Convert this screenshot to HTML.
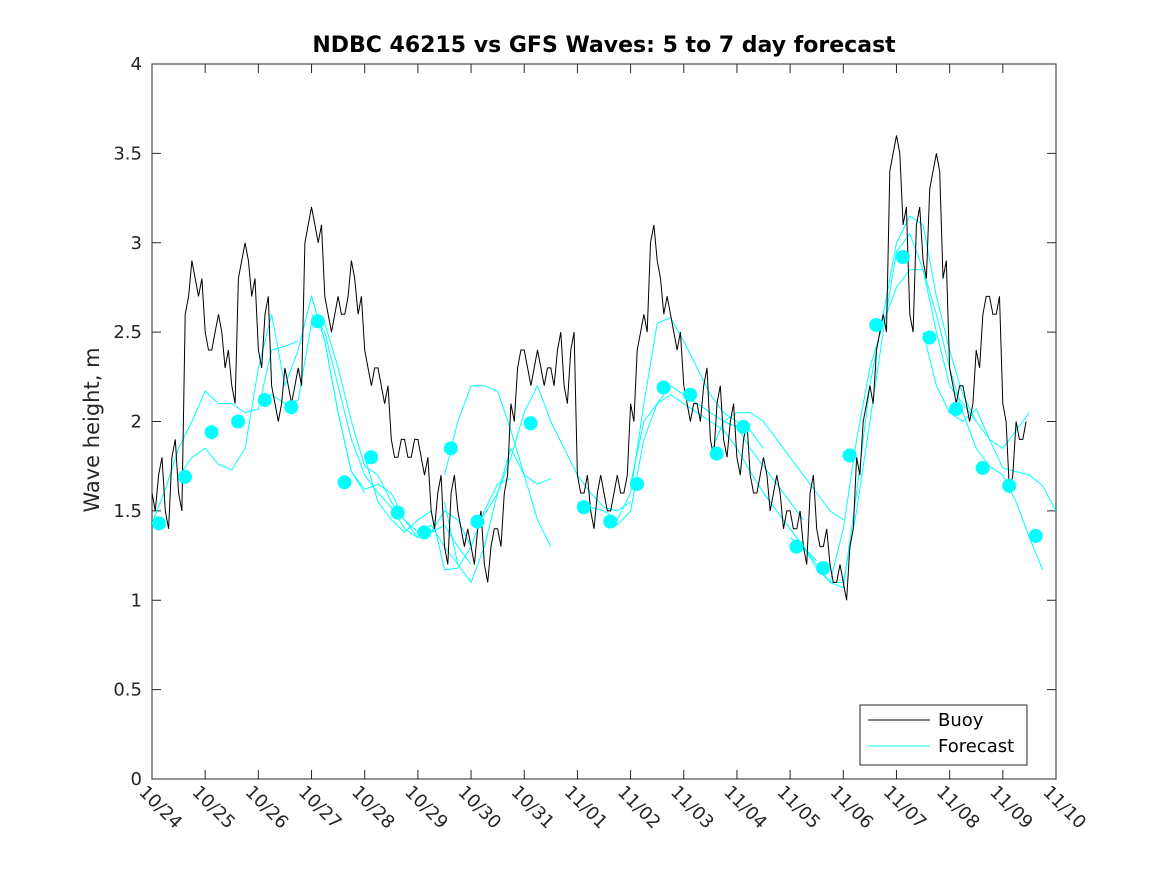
<!DOCTYPE html>
<html><head><meta charset="utf-8"><style>
body{margin:0;background:#fff;}
svg text{font-family:"DejaVu Sans","Liberation Sans",sans-serif;}
</style></head><body>
<svg id="chart" width="1167" height="875" viewBox="0 0 1167 875">
<rect x="0" y="0" width="1167" height="875" fill="#fff"/>
<defs><clipPath id="clip"><rect x="152" y="64" width="904" height="715"/></clipPath></defs>
<text x="604" y="52" text-anchor="middle" font-size="22" font-weight="bold" fill="#000">NDBC 46215 vs GFS Waves: 5 to 7 day forecast</text>
<text transform="translate(99,430) rotate(-90)" text-anchor="middle" font-size="21" fill="#262626">Wave height, m</text>
<g id="axes"></g>
<g id="plot" clip-path="url(#clip)"></g>
<g>
<rect x="860" y="705" width="167" height="60" fill="#fff" stroke="#262626" stroke-width="1"/>
<line x1="868" y1="720" x2="930" y2="720" stroke="#000" stroke-width="1"/>
<text x="938" y="726" font-size="18" fill="#000">Buoy</text>
<line x1="868" y1="746" x2="930" y2="746" stroke="#00ffff" stroke-width="1"/>
<text x="938" y="752" font-size="18" fill="#000">Forecast</text>
</g>
</svg>
<script>
const xTickLabels=["10/24","10/25","10/26","10/27","10/28","10/29","10/30","10/31","11/01","11/02","11/03","11/04","11/05","11/06","11/07","11/08","11/09","11/10"];
const yTicks=[0,0.5,1,1.5,2,2.5,3,3.5,4];
const yTickLabels=["0","0.5","1","1.5","2","2.5","3","3.5","4"];
const buoyStep=0.125;
const buoyValues=[
1.6,1.7,1.5,1.8,1.6,2.6,2.9,2.7,
2.5,2.4,2.6,2.3,2.2,2.8,3.0,2.7,
2.4,2.6,2.2,2.0,2.3,2.1,2.3,3.0,
3.2,3.0,2.7,2.5,2.7,2.6,2.9,2.6,
2.4,2.2,2.3,2.1,1.9,1.8,1.9,1.8,
1.9,1.7,1.5,1.6,1.3,1.6,1.5,1.3,
1.3,1.4,1.2,1.3,1.4,1.6,2.1,2.3,
2.4,2.2,2.4,2.2,2.3,2.4,2.2,2.4,
1.7,1.6,1.5,1.6,1.6,1.5,1.7,1.6,
2.1,2.4,2.6,3.0,2.9,2.6,2.6,2.4,
2.2,2.0,2.1,2.2,1.9,2.1,1.9,2.0,
1.8,1.9,1.7,1.6,1.8,1.5,1.7,1.4,
1.5,1.4,1.3,1.6,1.4,1.3,1.2,1.1,
1.1,1.3,1.8,2.0,2.2,2.4,2.6,3.4,
3.6,3.1,2.6,3.1,2.9,3.3,3.5,2.8,
2.3,2.1,2.2,2.0,2.4,2.6,2.7,2.6,
2.1,1.6,2.0,1.9];
const dotTimes=[0.13,0.62,1.12,1.62,2.12,2.62,3.12,3.62,4.12,4.62,5.12,5.62,6.12,7.12,8.12,8.62,9.12,9.62,10.12,10.62,11.12,12.12,12.62,13.12,13.62,14.12,14.62,15.12,15.62,16.12,16.62];
const dotValues=[1.43,1.69,1.94,2.00,2.12,2.08,2.56,1.66,1.80,1.49,1.38,1.85,1.44,1.99,1.52,1.44,1.65,2.19,2.15,1.82,1.97,1.30,1.18,1.81,2.54,2.92,2.47,2.07,1.74,1.64,1.36];
const fcStep=0.25;
const fcStarts=[0,0.5,2,3,3,4,5.5,5.5,6,8,8.5,9,10.5,11.5,12,12.75,14.5];
const fc1=[1.43,1.62,1.85,2.0,2.17,2.1,2.1,2.05,2.07,2.4,2.42,2.45];
const fc2=[1.69,1.8,1.85,1.76,1.73,1.85,2.3,2.6,2.2,2.4,2.7,2.45,2.05,1.72,1.6];
const fc3=[2.12,2.15,2.1,2.12,2.55,2.55,2.3,2.0,1.75,1.7,1.55,1.45,1.38,1.42,1.3,1.2];
const fc4=[2.7,2.45,2.05,1.72,1.62,1.65,1.6,1.45,1.35,1.38,1.42,1.3,1.2];
const fc5=[2.6,2.5,2.2,1.9,1.7,1.6,1.52,1.4,1.35,1.38,1.5,1.45,1.3];
const fc6=[1.8,1.55,1.45,1.38,1.45,1.5,1.17,1.18,1.3,1.5,1.65,1.68];
const fc7=[1.55,1.2,1.1,1.3,1.6,1.85,1.7,1.65,1.68];
const fc8=[1.7,2.0,2.2,2.2,2.17,1.95,1.7,1.45,1.3];
const fc9=[1.42,1.48,1.6,1.8,2.05,2.2,2.0,1.85,1.7,1.6,1.52,1.5,1.55];
const fc10=[1.55,1.52,1.5,1.45,1.6,2.1,2.55,2.58,2.45,2.3,2.15,2.05,2.0,1.95,1.85];
const fc11=[1.45,1.42,1.5,1.9,2.1,2.2,2.15,2.1,2.05,2.0,1.97,1.85,1.75,1.65,1.55,1.45];
const fc12=[1.65,2.0,2.1,2.15,2.1,2.05,2.0,1.95,1.85,1.72,1.6,1.5,1.4,1.3,1.22];
const fc13=[1.82,2.0,2.05,2.05,2.0,1.9,1.8,1.7,1.6,1.5,1.45];
const fc14=[1.6,1.5,1.4,1.3,1.2,1.1,1.07,1.6,2.2,2.6,3.0,3.15,3.1,2.7,2.4,2.15,2.0];
const fc15=[1.35,1.3,1.18,1.1,1.1,1.5,2.0,2.5,2.95,3.05,2.85,2.5,2.2,2.1,2.0,1.9,1.85,1.95,2.05];
const fc16=[1.1,1.4,1.9,2.3,2.55,2.75,2.85,2.85,2.6,2.3,2.05,1.85,1.75,1.7,1.55,1.35,1.17];
const fc17=[2.5,2.2,2.05,2.0,2.07,1.9,1.74,1.72,1.7,1.64,1.5,1.36,1.22,1.12];
const fcSeries=[fc1,fc2,fc3,fc4,fc5,fc6,fc7,fc8,fc9,fc10,fc11,fc12,fc13,fc14,fc15,fc16,fc17];

const X0=152,X1=1056,Y0=779,Y1=64,DAYS=17,YMAX=4;
const xs=d=>X0+(X1-X0)*d/DAYS;
const ys=v=>Y0-(Y0-Y1)*v/YMAX;
const NS="http://www.w3.org/2000/svg";
const axes=document.getElementById('axes'),plot=document.getElementById('plot');
function mk(tag,attrs,parent){const e=document.createElementNS(NS,tag);for(const k in attrs)e.setAttribute(k,attrs[k]);parent.appendChild(e);return e;}

const frame=mk('rect',{x:X0,y:Y1,width:X1-X0,height:Y0-Y1,fill:'none',stroke:'#262626','stroke-width':1},axes);


xTickLabels.forEach((lab,i)=>{
  const x=xs(i);
  mk('line',{x1:x,y1:Y0,x2:x,y2:Y0-9,stroke:'#262626'},axes);
  mk('line',{x1:x,y1:Y1,x2:x,y2:Y1+9,stroke:'#262626'},axes);
  const t=mk('text',{transform:`translate(${x-14},${Y0+14}) rotate(45)`,'font-size':18,fill:'#262626'},axes);
  t.textContent=lab;
  
  
});
yTicks.forEach((v,i)=>{
  const y=ys(v);
  mk('line',{x1:X0,y1:y,x2:X0+9,y2:y,stroke:'#262626'},axes);
  mk('line',{x1:X1,y1:y,x2:X1-9,y2:y,stroke:'#262626'},axes);
  const t=mk('text',{x:X0-10,y:y+6,'text-anchor':'end','font-size':18,fill:'#262626'},axes);
  t.textContent=yTickLabels[i];
  
  
});
fcSeries.forEach((s,k)=>{
  const pts=s.map((v,i)=>xs(fcStarts[k]+i*fcStep).toFixed(1)+','+ys(v).toFixed(1)).join(' ');
  const p=mk('polyline',{points:pts,fill:'none',stroke:'#00ffff','stroke-width':1},plot);
  
  
});
let bp=[];
buoyValues.forEach((v,i)=>{
  const x=xs(i*buoyStep), x2=xs((i+1)*buoyStep), xm=(x+x2)/2;
  bp.push(x.toFixed(1)+','+ys(v).toFixed(1));
  bp.push(xm.toFixed(1)+','+ys(v+(i%2?0.1:-0.1)).toFixed(1));
});
const bl=mk('polyline',{points:bp.join(' '),fill:'none',stroke:'#000','stroke-width':1},plot);


dotTimes.forEach((d,i)=>{
  const c=mk('circle',{cx:xs(d),cy:ys(dotValues[i]),r:7,fill:'#00ffff'},plot);
  
  
});
</script>
</body></html>
